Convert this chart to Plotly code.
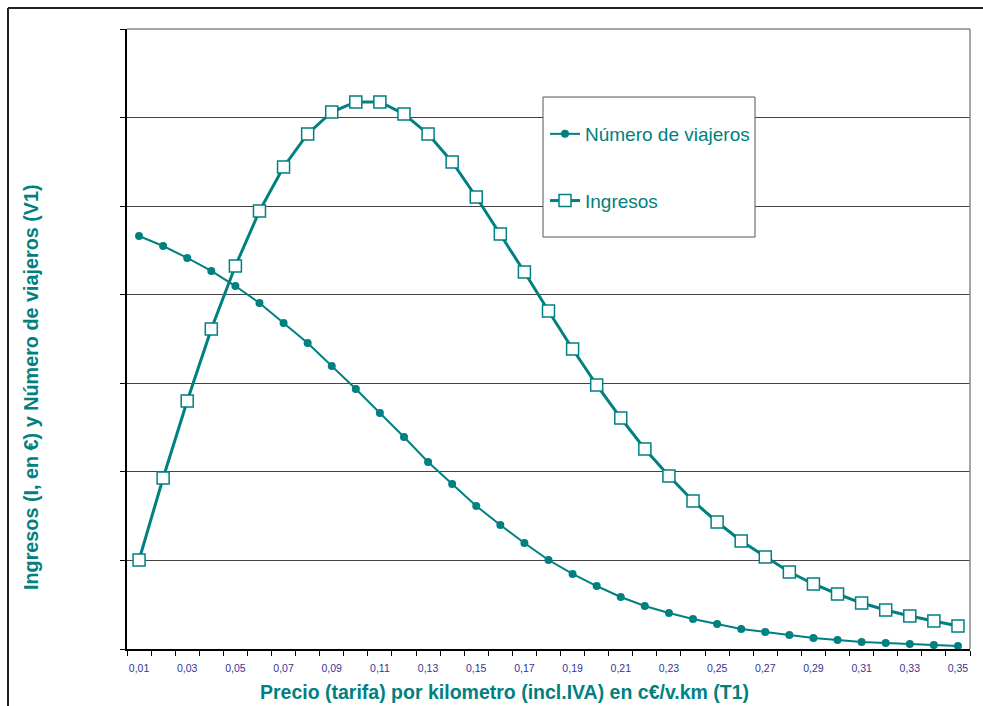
import plotly.graph_objects as go

categories = ["0,01", "0,02", "0,03", "0,04", "0,05", "0,06", "0,07", "0,08", "0,09", "0,10",
              "0,11", "0,12", "0,13", "0,14", "0,15", "0,16", "0,17", "0,18", "0,19", "0,20",
              "0,21", "0,22", "0,23", "0,24", "0,25", "0,26", "0,27", "0,28", "0,29", "0,30",
              "0,31", "0,32", "0,33", "0,34", "0,35"]

viajeros = [4.663, 4.550, 4.415, 4.268, 4.098, 3.907, 3.681, 3.455, 3.195, 2.936,
            2.665, 2.394, 2.111, 1.863, 1.615, 1.400, 1.197, 1.005, 0.847, 0.711,
            0.587, 0.485, 0.406, 0.339, 0.282, 0.226, 0.192, 0.158, 0.124, 0.102,
            0.079, 0.068, 0.056, 0.045, 0.034]

ingresos = [1.005, 1.931, 2.800, 3.613, 4.324, 4.945, 5.442, 5.815, 6.063, 6.176,
            6.176, 6.040, 5.815, 5.499, 5.103, 4.686, 4.257, 3.816, 3.387, 2.981,
            2.608, 2.258, 1.953, 1.671, 1.434, 1.219, 1.039, 0.869, 0.734, 0.621,
            0.519, 0.440, 0.373, 0.316, 0.260]

tick_labels = [c if i % 2 == 0 else "" for i, c in enumerate(categories)]

TEAL = "#008080"
FONT = "Liberation Sans, Arial, sans-serif"

W, H = 983, 706
L, R, T, B = 127, 13, 29, 57
PW, PH = W - L - R, H - T - B

def px(x):
    return (x - L) / PW

def py(y):
    return (H - B - y) / PH

fig = go.Figure()
fig.add_trace(go.Scatter(
    x=categories, y=viajeros, name="Número de viajeros", mode="lines+markers",
    line=dict(color=TEAL, width=2),
    marker=dict(symbol="circle", size=8, color=TEAL),
    legendgroup="a",
))
fig.add_trace(go.Scatter(
    x=categories, y=ingresos, name="Ingresos", mode="lines+markers",
    line=dict(color=TEAL, width=3),
    marker=dict(symbol="square", size=12, color="white", line=dict(color=TEAL, width=1.5)),
    legendgroup="b",
))

fig.update_layout(
    width=W, height=H,
    margin=dict(l=L, r=R, t=T, b=B),
    paper_bgcolor="white", plot_bgcolor="white",
    font=dict(family=FONT),
    showlegend=True,
    legend=dict(
        x=px(545), y=py(115), xanchor="left", yanchor="top",
        bgcolor="rgba(0,0,0,0)", borderwidth=0,
        font=dict(family=FONT, size=19, color=TEAL),
        tracegroupgap=39,
        itemwidth=30,
    ),
    xaxis=dict(
        type="category", range=[-0.5, 34.5],
        tickvals=categories, ticktext=tick_labels, tickangle=0,
        tickson="boundaries", ticks="outside", ticklen=5, tickcolor="#000",
        ticklabelstandoff=9,
        tickfont=dict(family=FONT, size=10.5, color="#333399"),
        showline=True, linecolor="#000", linewidth=1.5,
        showgrid=False, zeroline=False, mirror=False,
    ),
    yaxis=dict(
        range=[0, 7], dtick=1, showticklabels=False,
        ticks="outside", ticklen=5, tickcolor="#000",
        showline=True, linecolor="#000", linewidth=1.5,
        showgrid=True, gridcolor="#444444", gridwidth=1,
        zeroline=False,
    ),
    annotations=[
        dict(text="<b>Precio (tarifa) por kilometro (incl.IVA) en c€/v.km (T1)</b>",
             x=px(504), y=py(692), xref="paper", yref="paper", showarrow=False,
             xanchor="center", yanchor="middle",
             font=dict(family=FONT, size=19.5, color=TEAL)),
        dict(text="<b>Ingresos (I, en €) y Número de viajeros (V1)</b>",
             x=px(31), y=py(387), xref="paper", yref="paper", showarrow=False,
             xanchor="center", yanchor="middle", textangle=-90,
             font=dict(family=FONT, size=19.8, color=TEAL)),
    ],
    shapes=[
        # plot area top/right border (gray)
        dict(type="line", xref="paper", yref="paper", x0=0, x1=1, y0=1, y1=1,
             line=dict(color="#888888", width=1.5)),
        dict(type="line", xref="paper", yref="paper", x0=1, x1=1, y0=0, y1=1,
             line=dict(color="#888888", width=1.5)),
        # legend box
        dict(type="rect", xref="paper", yref="paper", layer="above",
             x0=px(543), x1=px(755), y0=py(237), y1=py(97),
             fillcolor="white", line=dict(color="#555555", width=1)),
        # outer chart border (top and left)
        dict(type="line", xref="paper", yref="paper", x0=px(8), x1=px(990), y0=py(8), y1=py(8),
             line=dict(color="#222222", width=2)),
        dict(type="line", xref="paper", yref="paper", x0=px(8), x1=px(8), y0=py(8), y1=py(710),
             line=dict(color="#222222", width=2)),
    ],
)

fig.write_html("out.html", config={"displayModeBar": False})
